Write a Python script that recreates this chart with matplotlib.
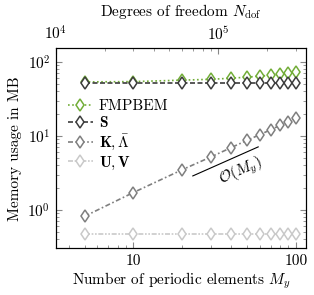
import numpy as np
import matplotlib
matplotlib.use("Agg")
import matplotlib.pyplot as plt

plt.rcParams['font.family'] = 'serif'
plt.rcParams['font.serif'] = ['cmr10']
plt.rcParams['mathtext.fontset'] = 'cm'
plt.rcParams['axes.formatter.use_mathtext'] = True
plt.rcParams['font.size'] = 11

# data
n_periodic = [5, 10, 20, 30, 40, 50, 60, 70, 80, 90, 100]
mem_fmpbem = [53.5, 54.0, 56.5, 58.0, 60.0, 62.0, 64.0, 66.0, 68.0, 70.0, 72.0]
mem_S = [52.5, 52.5, 52.5, 52.5, 52.5, 52.5, 52.5, 52.5, 52.5, 52.5, 52.5]
mem_K = [0.82, 1.72, 3.5, 5.2, 6.95, 8.7, 10.4, 12.1, 13.9, 15.6, 17.4]
mem_UV = [0.48, 0.48, 0.48, 0.48, 0.48, 0.48, 0.48, 0.48, 0.48, 0.48, 0.48]
labels = ['FMPBEM', r'$\mathbf{S}$', r'$\mathbf{K},\bar{\mathbf{\Lambda}}$', r'$\mathbf{U},\mathbf{V}$']
dof_per_element = 3000
order_x = [23.2, 58.6]
order_y = [2.88, 7.1]

colors = ['#72ad38', '#3c3c3c', '#7f7f7f', '#c9c9c9']
styles = [(0, (1, 1.5)), (0, (3, 1.5)), (0, (3, 1.5, 1, 1.5)), (0, (3, 1, 1, 1, 1, 1))]

xmin, xmax = 1e4 / dof_per_element, 115.6

fig = plt.figure(figsize=(3.14, 2.95), dpi=100)
ax = fig.add_axes([0.178, 0.158, 0.797, 0.679])

series = [mem_fmpbem, mem_S, mem_K, mem_UV]
for vals, lab, c, ls in zip(series, labels, colors, styles):
    ax.plot(n_periodic, vals, ls=ls, color=c, lw=1.2, marker='d', ms=6,
            mfc='white', mec=c, mew=1.1, label=lab)

ax.plot(order_x, order_y, color='black', lw=0.8)
ax.text(46, 3.3, r'$\mathcal{O}(M_y)$', rotation=24, ha='center', va='center')

ax.set_xscale('log')
ax.set_yscale('log')
ax.set_xlim(xmin, xmax)
ax.set_ylim(0.303, 153)
ax.set_xticks([10, 100])
ax.set_xticklabels(['10', '100'])
ax.set_xlabel(r'Number of periodic elements $M_y$', labelpad=2)
ax.set_ylabel('Memory usage in MB', labelpad=4)
ax.tick_params(which='both', direction='in', top=False, right=True, colors='#888888', labelcolor='black', pad=4)
ax.tick_params(which='major', length=4)
ax.tick_params(which='minor', length=2)
for s in ax.spines.values():
    s.set_linewidth(0.8)

top = ax.twiny()
top.set_xscale('log')
top.set_xlim(xmin * dof_per_element, xmax * dof_per_element)
top.set_xticks([1e4, 1e5])
top.set_xlabel(r'Degrees of freedom $N_{\rm dof}$', labelpad=6)
top.tick_params(which='both', direction='in', colors='#888888', labelcolor='black', pad=4)
top.tick_params(which='major', length=4)
top.tick_params(which='minor', length=2)

ax.legend(loc='upper left', bbox_to_anchor=(0.0, 0.805), frameon=False, handlelength=1.6,
          handletextpad=0.4, labelspacing=0.15, borderaxespad=0.4)

fig.savefig('out.png', dpi=100)
